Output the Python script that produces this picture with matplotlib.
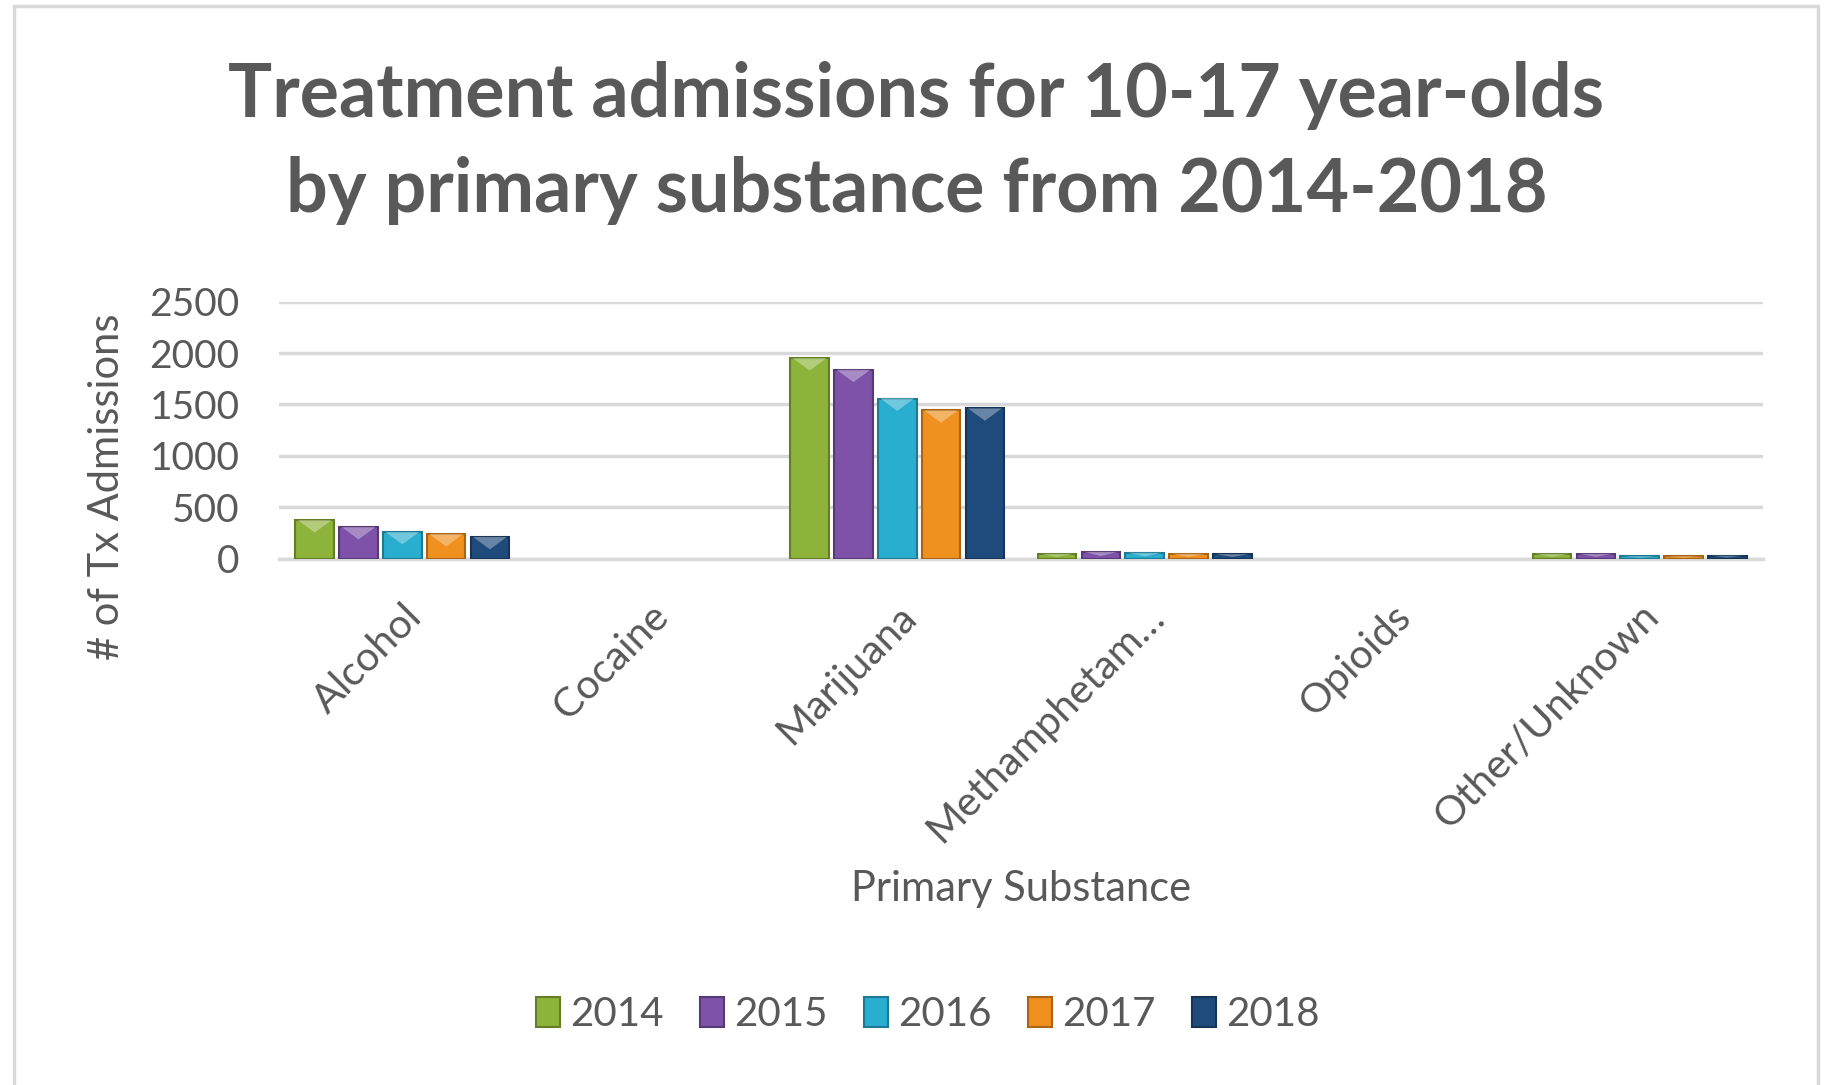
import numpy as np
import matplotlib
matplotlib.use("Agg")
import matplotlib.pyplot as plt
from matplotlib.patches import Polygon, Rectangle
from matplotlib import colors as mcolors

# Data
substances = ["Alcohol", "Cocaine", "Marijuana", "Methamphetam…", "Opioids", "Other/Unknown"]
years = ["2014", "2015", "2016", "2017", "2018"]
adm_2014 = [375, 0, 1950, 48, 0, 48]
adm_2015 = [308, 0, 1837, 67, 0, 48]
adm_2016 = [260, 0, 1558, 58, 0, 25]
adm_2017 = [240, 0, 1442, 48, 0, 25]
adm_2018 = [212, 0, 1462, 45, 0, 30]
series = [adm_2014, adm_2015, adm_2016, adm_2017, adm_2018]

bar_colors = ["#8db33a", "#7d52a8", "#2aaed0", "#f0901e", "#1f4a7c"]
text_gray = "#595959"
grid_gray = "#d9d9d9"

plt.rcParams["font.family"] = ["Lato", "DejaVu Sans"]

fig = plt.figure(figsize=(18.33, 10.85), dpi=100)
ax = fig.add_axes([0.152, 0.485, 0.810, 0.237])

# outer chart-area border
fig.patches.append(Rectangle((0.0077, -0.02), 0.9843, 1.0146, transform=fig.transFigure,
                             fill=False, edgecolor="#d9d9d9", linewidth=2.5))

x = np.arange(len(substances))
pitch = 0.177
width = 0.156
for i, (vals, col) in enumerate(zip(series, bar_colors)):
    pos = x + (i - 2) * pitch
    dark = [c * 0.7 for c in mcolors.to_rgb(col)]
    light = [1 - (1 - c) * 0.45 for c in mcolors.to_rgb(col)]
    bars = ax.bar(pos, vals, width, color=col, edgecolor=dark, linewidth=1.5,
                  label=years[i], zorder=3)
    # bevel highlight on top of each bar
    for b, v in zip(bars, vals):
        if v <= 0:
            b.set_visible(False)
            continue
        x0 = b.get_x()
        x1 = x0 + b.get_width()
        h = min(120, v * 0.6)
        tri = Polygon([(x0 + 0.01, v), (x1 - 0.01, v), ((x0 + x1) / 2, v - h)],
                      closed=True, facecolor=light, edgecolor="none", alpha=0.6, zorder=4)
        ax.add_patch(tri)

ax.set_xlim(-0.5, len(substances) - 0.5)
ax.set_ylim(0, 2500)
ax.set_yticks([0, 500, 1000, 1500, 2000, 2500])
ax.yaxis.grid(True, color=grid_gray, linewidth=2.5, zorder=0)
ax.set_axisbelow(True)

for s in ["top", "right", "left"]:
    ax.spines[s].set_visible(False)
ax.spines["bottom"].set_color(grid_gray)
ax.spines["bottom"].set_linewidth(2.5)

ax.set_xticks(x)
ax.set_xticklabels(substances, rotation=45, ha="right", rotation_mode="anchor")
ax.tick_params(axis="x", length=0, pad=28, labelsize=29.5, labelcolor=text_gray)
ax.tick_params(axis="y", length=0, pad=28, labelsize=28, labelcolor=text_gray)

ax.set_xlabel("Primary Substance", fontsize=30, color=text_gray, labelpad=0)
ax.xaxis.set_label_coords(0.5, -1.21)
ax.set_ylabel("# of Tx Admissions", fontsize=30, color=text_gray)
ax.yaxis.set_label_coords(-0.103, 0.28)

fig.text(0.5, 0.912, "Treatment admissions for 10-17 year-olds", ha="center", va="center",
         fontsize=53, fontweight="bold", color=text_gray)
fig.text(0.5, 0.824, "by primary substance from 2014-2018", ha="center", va="center",
         fontsize=53, fontweight="bold", color=text_gray)

fig.legend(loc="center", bbox_to_anchor=(0.506, 0.065), ncol=5, frameon=False,
           fontsize=29, labelcolor=text_gray, handlelength=0.6, handleheight=0.8,
           handletextpad=0.25, columnspacing=0.9)

fig.savefig("out.png", dpi=100)
